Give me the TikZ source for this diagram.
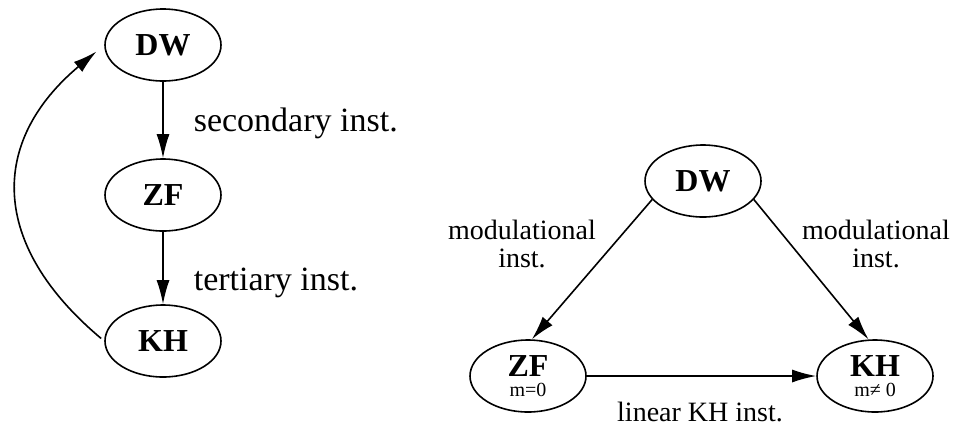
\documentclass[tikz,border=0pt]{standalone}
\usepackage{fontspec}
\setmainfont{Liberation Serif}
\usetikzlibrary{arrows.meta, shapes.geometric}
\tikzset{>={Latex[length=12pt,width=6.5pt]}}
\tikzset{mode/.style={ellipse, draw, inner sep=0pt, minimum width=58pt, minimum height=36pt, font=\fontsize{16}{18}\selectfont\bfseries, align=center}}
\newcommand{\lblbig}{\fontsize{17}{19}\selectfont}
\newcommand{\lblsmall}{\fontsize{14}{14}\selectfont}
\newcommand{\lbltiny}{\fontsize{10}{10}\selectfont\mdseries}

\begin{document}
\begin{tikzpicture}[x=0.5pt, y=-0.5pt, thick]
    \useasboundingbox (0,0) rectangle (961,430);
    \node[mode] (dwa) at (163,45) {DW};
    \node[mode] (zfa) at (163,195) {ZF};
    \node[mode] (kha) at (163,341) {KH};
    \node[mode] (dwb) at (703,181) {DW};
    \node[mode] (zfb) at (528,376) {ZF\\[-8pt]{\lbltiny m=0}};
    \node[mode] (khb) at (875,376) {KH\\[-8pt]{\lbltiny m≠ 0}};
    \draw [->] (dwa) -- (zfa);
    \draw [->] (zfa) -- (kha);
    \draw [->, shorten <=2pt, shorten >=5pt] (kha.west) to[bend left=50, looseness=1.3] (dwa.west);
    \draw [->] (dwb.200) -- (zfb.84);
    \draw [->] (dwb.340) -- (khb.100);
    \draw [->] (zfb) -- (khb);
    \node[anchor=west, inner sep=0pt, font=\lblbig] (sec) at (193,123) {secondary inst.};
    \node[anchor=west, inner sep=0pt, font=\lblbig] (ter) at (193,283) {tertiary inst.};
    \node[align=center, font=\lblsmall] (modl) at (522,244) {modulational\\inst.};
    \node[align=center, font=\lblsmall] (modr) at (876,244) {modulational\\inst.};
    \node[font=\lblsmall] (lin) at (700,412) {linear KH inst.};
\end{tikzpicture}
\end{document}
